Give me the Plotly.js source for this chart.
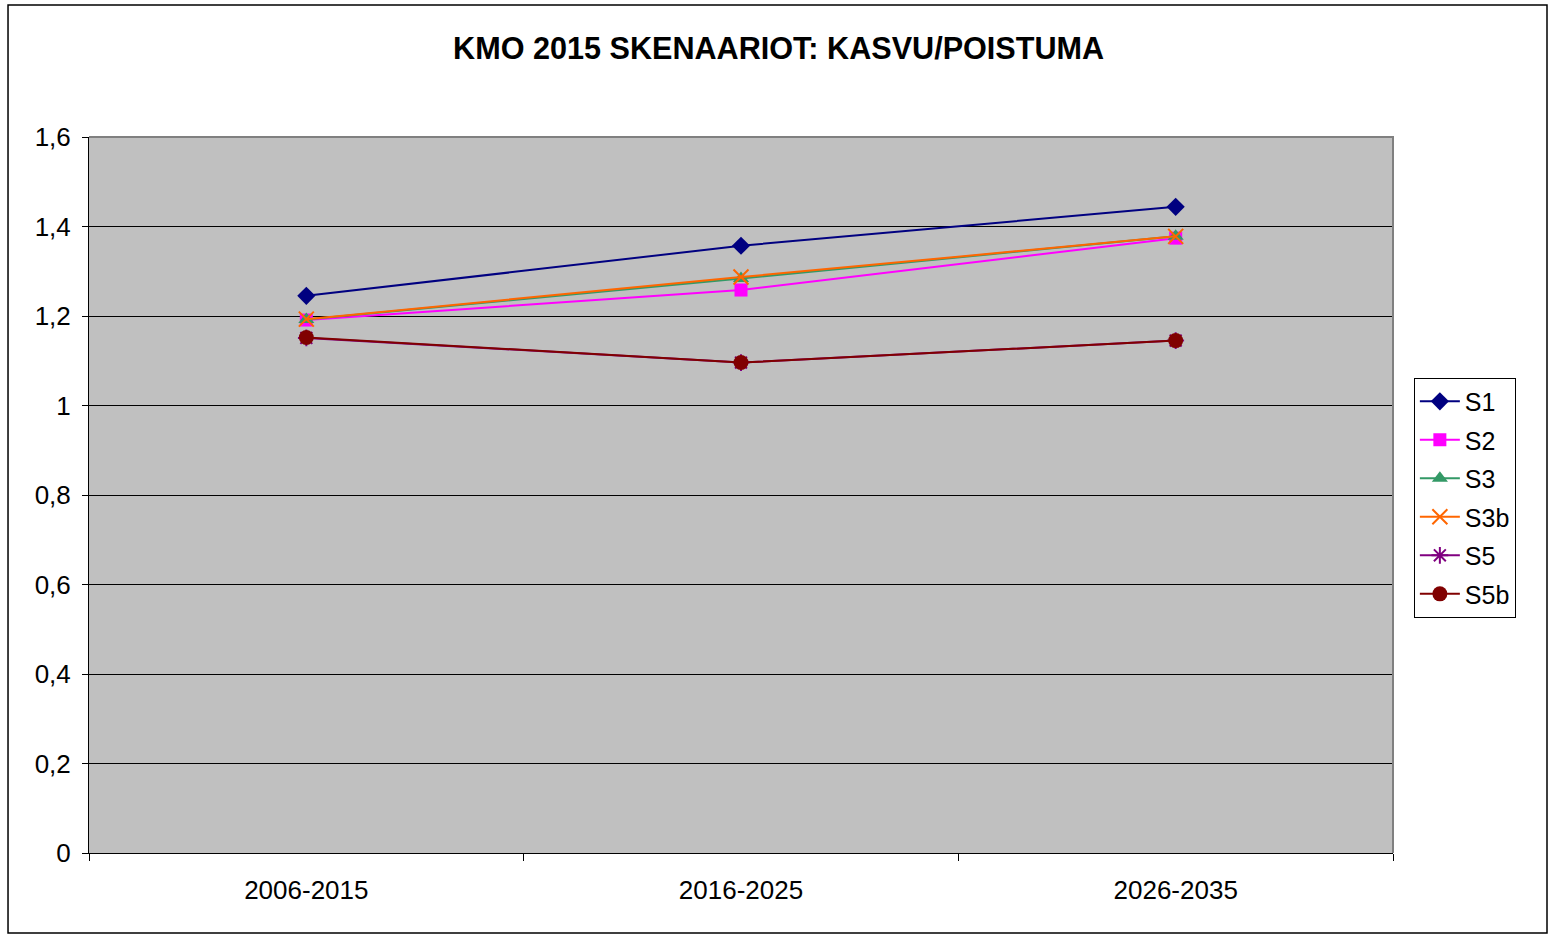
<!DOCTYPE html>
<html>
<head>
<meta charset="utf-8">
<script src="https://cdn.plot.ly/plotly-3.0.1.min.js"></script>
<style>html,body{margin:0;padding:0;background:#fff;}#chart{width:1551px;height:938px;}</style>
</head>
<body>
<div id="chart"></div>
<script>
var categories = ["2006-2015", "2016-2025", "2026-2035"];
var seriesNames = ["S1", "S2", "S3", "S3b", "S5", "S5b"];
var S1  = [1.245, 1.357, 1.444];
var S2  = [1.191, 1.258, 1.374];
var S3  = [1.192, 1.284, 1.378];
var S3b = [1.193, 1.287, 1.378];
var S5  = [1.151, 1.096, 1.145];
var S5b = [1.152, 1.096, 1.145];
var yTicks = [0, 0.2, 0.4, 0.6, 0.8, 1, 1.2, 1.4, 1.6];

var values = [S1, S2, S3, S3b, S5, S5b];
var colors = ["#000080", "#FF00FF", "#339966", "#FF6600", "#800080", "#800000"];
var symbols = ["diamond", "square", "triangle-up", "x-thin-open", "asterisk-open", "circle"];
var sizes = [14, 13, 14, 15, 14, 15];

var traces = seriesNames.map(function (n, i) {
  return {
    type: "scatter", mode: "lines+markers", name: n,
    x: categories, y: values[i],
    legendgroup: n,
    line: {color: colors[i], width: 2},
    marker: {symbol: symbols[i], size: sizes[i], color: colors[i],
             line: {color: colors[i], width: (symbols[i].indexOf("open") >= 0 ? 2 : 0)}}
  };
});

var layout = {
  width: 1551, height: 938,
  paper_bgcolor: "#ffffff", plot_bgcolor: "#C0C0C0",
  separators: ", ",
  margin: {l: 89, r: 158, t: 137, b: 85, pad: 0},
  font: {family: "Arial, 'Liberation Sans', sans-serif", size: 26, color: "#000"},
  title: {text: "<b>KMO 2015 SKENAARIOT: KASVU/POISTUMA</b>", x: 0.502, xanchor: "center", y: 0.948, yanchor: "middle",
          font: {size: 30.6, color: "#000"}},
  showlegend: true,
  legend: {x: 1.016, xanchor: "left", y: 0.664, yanchor: "top", bgcolor: "#fff",
           bordercolor: "#000", borderwidth: 1, tracegroupgap: 3,
           font: {size: 25}, itemwidth: 40},
  xaxis: {type: "category", range: [-0.5, 2.5], tickson: "boundaries", ticks: "outside", ticklen: 7,
          tickcolor: "#000", showline: true, linecolor: "#000", linewidth: 1, showgrid: false,
          ticklabelstandoff: 14, tickfont: {size: 26}, zeroline: false, fixedrange: true},
  yaxis: {range: [0, 1.6], tickvals: yTicks, ticks: "outside", ticklen: 6, tickcolor: "#000",
          showline: true, linecolor: "#000", linewidth: 1, showgrid: true, gridcolor: "#000", gridwidth: 1,
          zeroline: false, tickfont: {size: 26}, ticklabelstandoff: 6, fixedrange: true},
  shapes: [
    {type: "path", xref: "paper", yref: "paper", path: "M 0 1 L 1 1 L 1 0", line: {color: "#808080", width: 2}, layer: "above"},
    {type: "rect", xref: "paper", yref: "paper", x0: -0.0621, x1: 1.1181, y0: -0.1117, y1: 1.1844,
     line: {color: "#000", width: 1.5}, fillcolor: "rgba(0,0,0,0)", layer: "below"}
  ]
};

Plotly.newPlot("chart", traces, layout, {displayModeBar: false, staticPlot: true});
</script>
</body>
</html>
